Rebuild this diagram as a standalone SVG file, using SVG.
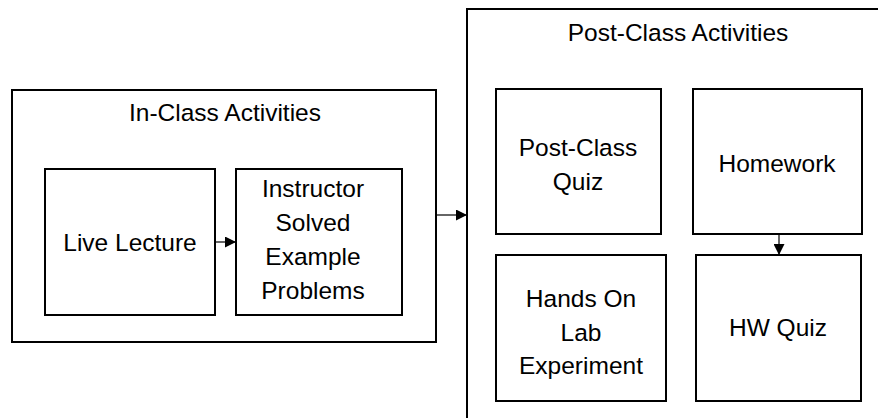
<svg xmlns="http://www.w3.org/2000/svg" width="878" height="418" viewBox="0 0 878 418">
<defs>
<style>
.box{fill:#fff;stroke:#000;stroke-width:2}
.t{font-family:"Liberation Sans",Arial,sans-serif;font-size:24.5px;fill:#000;text-anchor:middle}
.c{stroke:#000;stroke-width:1.2;fill:none}
</style>
<marker id="ah" viewBox="0 0 10 10" refX="10" refY="5" markerWidth="11" markerHeight="11" markerUnits="userSpaceOnUse" orient="auto">
<path d="M0,0 L10,5 L0,10 Z" fill="#000"/>
</marker>
</defs>
<rect width="878" height="418" fill="#fff"/>
<g id="in-class">
<rect class="box" x="12" y="90" width="424" height="252"/>
<text class="t" x="225" y="121">In-Class Activities</text>
</g>
<g id="post-class">
<rect class="box" x="467" y="9" width="430" height="430"/>
<text class="t" x="678" y="41">Post-Class Activities</text>
</g>
<g id="live-lecture">
<rect class="box" x="45" y="169" width="170" height="146"/>
<text class="t" x="130" y="251">Live Lecture</text>
</g>
<g id="instructor">
<rect class="box" x="236" y="169" width="166" height="146"/>
<text class="t" x="313" y="197">Instructor</text>
<text class="t" x="313" y="231">Solved</text>
<text class="t" x="313" y="265">Example</text>
<text class="t" x="313" y="299">Problems</text>
</g>
<g id="post-class-quiz">
<rect class="box" x="496" y="89" width="165" height="145"/>
<text class="t" x="578" y="156">Post-Class</text>
<text class="t" x="578" y="190">Quiz</text>
</g>
<g id="homework">
<rect class="box" x="693" y="89" width="169" height="145"/>
<text class="t" x="777" y="172">Homework</text>
</g>
<g id="hands-on">
<rect class="box" x="496" y="255" width="170" height="146"/>
<text class="t" x="581" y="307">Hands On</text>
<text class="t" x="581" y="341">Lab</text>
<text class="t" x="581" y="374">Experiment</text>
</g>
<g id="hw-quiz">
<rect class="box" x="696" y="255" width="165" height="146"/>
<text class="t" x="778" y="336">HW Quiz</text>
</g>
<g id="connectors">
<line class="c" x1="215" y1="242" x2="236" y2="242" marker-end="url(#ah)"/>
<line class="c" x1="436" y1="215" x2="467" y2="215" marker-end="url(#ah)"/>
<line class="c" x1="779" y1="234" x2="779" y2="255" marker-end="url(#ah)"/>
</g>
</svg>
